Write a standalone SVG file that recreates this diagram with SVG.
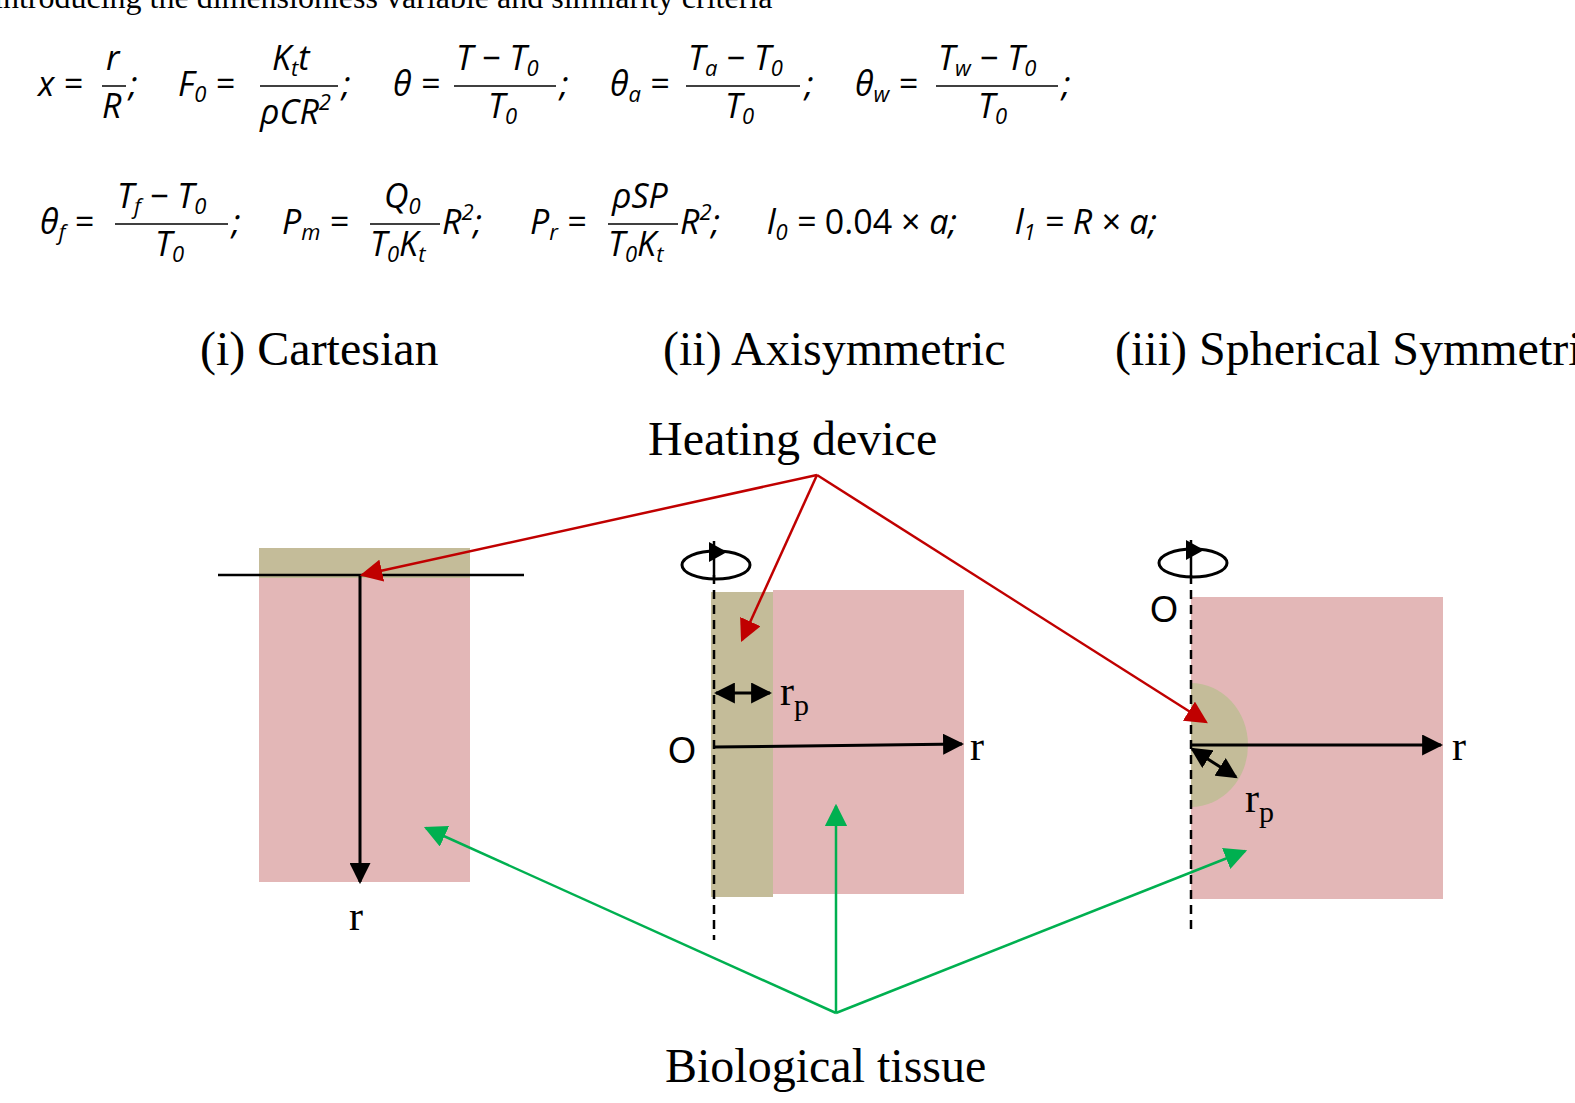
<svg xmlns="http://www.w3.org/2000/svg" width="1575" height="1103" viewBox="0 0 1575 1103">
<style>
.s{font-family:"Liberation Serif",serif;fill:#000}
.m{font-family:"Open Sans","DejaVu Sans",sans-serif;font-style:italic;font-size:34px;fill:#000}
.bar{stroke:#000;stroke-width:1.5}
.blk{stroke:#000;stroke-width:3;fill:none}
.red{stroke:#c00000;stroke-width:2.5;fill:none}
.grn{stroke:#00b050;stroke-width:2.5;fill:none}
.dash{stroke:#000;stroke-width:2.5;stroke-dasharray:9 6}
</style>
<defs>
<marker id="ab" viewBox="0 0 10 10" refX="9" refY="5" markerWidth="7" markerHeight="7" orient="auto-start-reverse" markerUnits="strokeWidth"><path d="M0,0L10,5L0,10z" fill="#000"/></marker>
<marker id="ar" viewBox="0 0 10 10" refX="9" refY="5" markerWidth="9" markerHeight="9" orient="auto" markerUnits="strokeWidth"><path d="M0,0L10,5L0,10z" fill="#c00000"/></marker>
<marker id="ag" viewBox="0 0 10 10" refX="9" refY="5" markerWidth="9" markerHeight="9" orient="auto" markerUnits="strokeWidth"><path d="M0,0L10,5L0,10z" fill="#00b050"/></marker>
</defs>
<rect width="1575" height="1103" fill="#fff"/>
<text class="s" x="-6" y="8" font-size="32">introducing the dimensionless variable and similarity criteria</text>
<g id="equations" class="m">
<text x="38" y="96">x =</text>
<text x="106" y="70">r</text><line class="bar" x1="102" y1="86" x2="126" y2="86"/><text x="102" y="118">R</text><text x="129" y="96">;</text>
<text x="178" y="96">F<tspan font-size="22" dy="6">0</tspan><tspan dy="-6"> =</tspan></text>
<text x="272" y="70">K<tspan font-size="22" dy="6">t</tspan><tspan dy="-6">t</tspan></text><line class="bar" x1="260" y1="86" x2="338" y2="86"/><text x="260" y="124">ρCR<tspan font-size="22" dy="-14">2</tspan></text><text x="342" y="96">;</text>
<text x="393" y="96">θ =</text>
<text x="456" y="70">T − T<tspan font-size="22" dy="6">0</tspan></text><line class="bar" x1="454" y1="86" x2="556" y2="86"/><text x="488" y="118">T<tspan font-size="22" dy="6">0</tspan></text><text x="560" y="96">;</text>
<text x="610" y="96">θ<tspan font-size="22" dy="6">a</tspan><tspan dy="-6"> =</tspan></text>
<text x="688" y="70">T<tspan font-size="22" dy="6">a</tspan><tspan dy="-6"> − T</tspan><tspan font-size="22" dy="6">0</tspan></text><line class="bar" x1="686" y1="86" x2="800" y2="86"/><text x="725" y="118">T<tspan font-size="22" dy="6">0</tspan></text><text x="805" y="96">;</text>
<text x="855" y="96">θ<tspan font-size="22" dy="6">w</tspan><tspan dy="-6"> =</tspan></text>
<text x="938" y="70">T<tspan font-size="22" dy="6">w</tspan><tspan dy="-6"> − T</tspan><tspan font-size="22" dy="6">0</tspan></text><line class="bar" x1="936" y1="86" x2="1058" y2="86"/><text x="978" y="118">T<tspan font-size="22" dy="6">0</tspan></text><text x="1062" y="96">;</text>
<text x="40" y="234">θ<tspan font-size="22" dy="6">f</tspan><tspan dy="-6"> =</tspan></text>
<text x="117" y="208">T<tspan font-size="22" dy="6">f</tspan><tspan dy="-6"> − T</tspan><tspan font-size="22" dy="6">0</tspan></text><line class="bar" x1="115" y1="224" x2="228" y2="224"/><text x="155" y="256">T<tspan font-size="22" dy="6">0</tspan></text><text x="232" y="234">;</text>
<text x="282" y="234">P<tspan font-size="22" dy="6">m</tspan><tspan dy="-6"> =</tspan></text>
<text x="384" y="208">Q<tspan font-size="22" dy="6">0</tspan></text><line class="bar" x1="370" y1="224" x2="440" y2="224"/><text x="370" y="256">T<tspan font-size="22" dy="6">0</tspan><tspan dy="-6">K</tspan><tspan font-size="22" dy="6">t</tspan></text><text x="442" y="234">R<tspan font-size="22" dy="-14">2</tspan><tspan dy="14">;</tspan></text>
<text x="530" y="234">P<tspan font-size="22" dy="6">r</tspan><tspan dy="-6"> =</tspan></text>
<text x="612" y="208">ρSP</text><line class="bar" x1="608" y1="224" x2="678" y2="224"/><text x="608" y="256">T<tspan font-size="22" dy="6">0</tspan><tspan dy="-6">K</tspan><tspan font-size="22" dy="6">t</tspan></text><text x="680" y="234">R<tspan font-size="22" dy="-14">2</tspan><tspan dy="14">;</tspan></text>
<text x="767" y="234">l<tspan font-size="22" dy="6">0</tspan><tspan dy="-6"> = </tspan><tspan font-style="normal">0.04 × </tspan>a;</text>
<text x="1015" y="234">l<tspan font-size="22" dy="6">1</tspan><tspan dy="-6"> = R × a;</tspan></text>
</g>
<g id="titles" class="s" font-size="48">
<text x="200" y="365">(i) Cartesian</text>
<text x="663" y="365">(ii) Axisymmetric</text>
<text x="1115" y="365">(iii) Spherical Symmetric</text>
<text x="648" y="455">Heating device</text>
<text x="665" y="1082">Biological tissue</text>
</g>
<g id="cartesian">
<rect x="259" y="548" width="211" height="30" fill="#c4bc99"/>
<rect x="259" y="578" width="211" height="304" fill="#e3b7b7"/>
<line x1="218" y1="575" x2="524" y2="575" stroke="#000" stroke-width="2.5"/>
<line class="blk" x1="360" y1="575" x2="360" y2="882" marker-end="url(#ab)"/>
<text class="s" x="349" y="930" font-size="42">r</text>
</g>
<g id="axisymmetric">
<rect x="773" y="590" width="191" height="304" fill="#e3b7b7"/>
<rect x="711" y="592" width="62" height="305" fill="#c4bc99"/>
<line class="dash" x1="714" y1="575" x2="714" y2="940"/>
<ellipse cx="716" cy="565" rx="34" ry="14" class="blk" stroke-width="2.5"/>
<line x1="714" y1="541" x2="714" y2="580" stroke="#000" stroke-width="2.5"/>
<path d="M709,542L727,552L709,562z" fill="#000"/>
<line class="blk" x1="716" y1="693" x2="770" y2="693" marker-start="url(#ab)" marker-end="url(#ab)"/>
<text class="s" x="780" y="705" font-size="42">r<tspan font-size="30" dy="10">p</tspan></text>
<text x="668" y="763" font-family="Liberation Sans,sans-serif" font-size="36">O</text>
<line class="blk" x1="714" y1="747" x2="962" y2="744" marker-end="url(#ab)"/>
<text class="s" x="970" y="760" font-size="42">r</text>
</g>
<g id="spherical">
<rect x="1191" y="597" width="252" height="302" fill="#e3b7b7"/>
<path d="M1191,683A57,62 0 0 1 1191,807z" fill="#c4bc99"/>
<line class="dash" x1="1191" y1="575" x2="1191" y2="935"/>
<ellipse cx="1193" cy="563" rx="34" ry="14" class="blk" stroke-width="2.5"/>
<line x1="1191" y1="540" x2="1191" y2="578" stroke="#000" stroke-width="2.5"/>
<path d="M1186,540L1204,550L1186,560z" fill="#000"/>
<text x="1150" y="622" font-family="Liberation Sans,sans-serif" font-size="36">O</text>
<line class="blk" x1="1191" y1="745" x2="1441" y2="745" marker-end="url(#ab)"/>
<text class="s" x="1452" y="760" font-size="42">r</text>
<line class="blk" x1="1192" y1="749" x2="1236" y2="777" marker-start="url(#ab)" marker-end="url(#ab)"/>
<text class="s" x="1245" y="812" font-size="42">r<tspan font-size="30" dy="10">p</tspan></text>
</g>
<g id="connectors">
<line class="red" x1="817" y1="475" x2="362" y2="575" marker-end="url(#ar)"/>
<line class="red" x1="817" y1="475" x2="742" y2="640" marker-end="url(#ar)"/>
<line class="red" x1="817" y1="475" x2="1206" y2="722" marker-end="url(#ar)"/>
<line class="grn" x1="836" y1="1013" x2="426" y2="828" marker-end="url(#ag)"/>
<line class="grn" x1="836" y1="1013" x2="836" y2="806" marker-end="url(#ag)"/>
<line class="grn" x1="836" y1="1013" x2="1245" y2="851" marker-end="url(#ag)"/>
</g>
</svg>
